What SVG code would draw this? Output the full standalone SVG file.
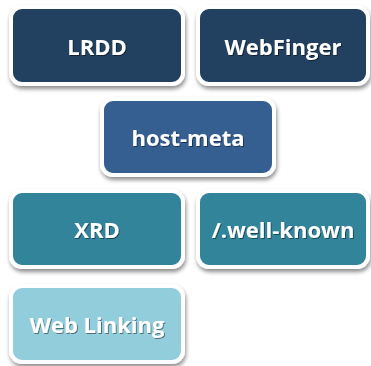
<svg xmlns="http://www.w3.org/2000/svg" width="371" height="366" viewBox="0 0 371 366">
<defs>
<filter id="sh" x="-10%" y="-10%" width="125%" height="130%">
<feGaussianBlur in="SourceAlpha" stdDeviation="2"/>
<feOffset dx="1" dy="3" result="b"/>
<feComponentTransfer><feFuncA type="linear" slope="0.45"/></feComponentTransfer>
<feMerge><feMergeNode/><feMergeNode in="SourceGraphic"/></feMerge>
</filter>
<filter id="tsh" x="-10%" y="-20%" width="130%" height="150%">
<feGaussianBlur in="SourceAlpha" stdDeviation="0.6"/>
<feOffset dx="1" dy="1.2"/>
<feComponentTransfer><feFuncA type="linear" slope="0.45"/></feComponentTransfer>
<feMerge><feMergeNode/><feMergeNode in="SourceGraphic"/></feMerge>
</filter>
</defs>
<style>
.b{stroke:#fff;stroke-width:4;filter:url(#sh)}
.t{font-family:"Open Sans","Liberation Sans",sans-serif;font-weight:bold;font-size:22px;fill:#fff;text-anchor:middle;dominant-baseline:central;filter:url(#tsh)}
</style>
<rect width="371" height="366" fill="#fff"/>
<g id="lrdd"><rect class="b" x="11" y="7" width="172" height="77" rx="11" fill="#243F60"/><text class="t" x="97" y="46">LRDD</text></g>
<g id="webfinger"><rect class="b" x="198" y="7" width="170" height="77" rx="11" fill="#243F60"/><text class="t" x="283" y="46">WebFinger</text></g>
<g id="hostmeta"><rect class="b" x="102" y="99" width="172" height="76" rx="11" fill="#365F91"/><text class="t" x="188" y="137">host-meta</text></g>
<g id="xrd"><rect class="b" x="11" y="191" width="172" height="76" rx="11" fill="#31849B"/><text class="t" x="97" y="229">XRD</text></g>
<g id="wellknown"><rect class="b" x="198" y="191" width="170" height="76" rx="11" fill="#31849B"/><text class="t" x="283" y="229">/.well-known</text></g>
<g id="weblinking"><rect class="b" x="11" y="286" width="172" height="76" rx="11" fill="#92CDDC"/><text class="t" x="97" y="324">Web Linking</text></g>
<g id="connectors"/>
</svg>
